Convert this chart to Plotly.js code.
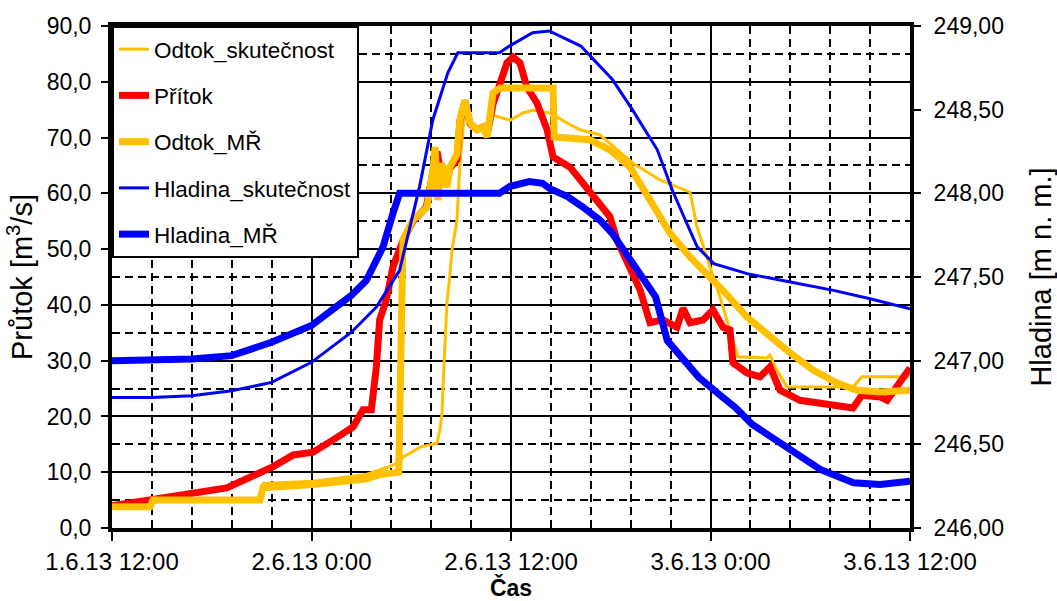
<!DOCTYPE html>
<html>
<head>
<meta charset="utf-8">
<script src="https://cdn.plot.ly/plotly-3.0.1.min.js"></script>
<style>html,body{margin:0;padding:0;background:#fff;}</style>
</head>
<body>
<div id="chart" style="width:1057px;height:601px;"></div>
<script>
// x values are hours after 1.6.13 12:00
const xTickVals = [0, 12, 24, 36, 48];
const xTickText = ['1.6.13 12:00', '2.6.13 0:00', '2.6.13 12:00', '3.6.13 0:00', '3.6.13 12:00'];
const yMinorVals = [5, 15, 25, 35, 45, 55, 65, 85];

const odtokSkutH = [0, 2.3, 2.5, 8.9, 9.1, 12.1, 15.3, 16.5, 17.14, 17.5, 18.53, 19.55, 19.73, 19.85, 19.95, 20.15, 20.33, 20.45, 20.75, 20.93, 21.11, 21.23, 21.53, 21.95, 22.32, 22.56, 22.92, 23.94, 24.72, 24.96, 25.32, 26.35, 27.37, 28.15, 29.35, 31.34, 32.96, 34.77, 35.19, 35.97, 36.57, 37.17, 37.65, 39.4, 39.58, 39.88, 40.6, 44.57, 45.11, 48];
const odtokSkutV = [3.8, 4.0, 4.8, 5.2, 8.0, 8.4, 9.6, 10.8, 11.6, 12.7, 14.5, 15.2, 17.6, 20.6, 28, 40.5, 45.5, 49.8, 55.2, 65.4, 71.4, 76.0, 72.6, 71.4, 71.9, 70.1, 74.0, 73.1, 74.4, 74.6, 74.9, 74.4, 72.6, 71.4, 70.5, 65.4, 62.4, 60.2, 54.0, 46.8, 41.4, 35.5, 30.7, 30.5, 31.0, 28.9, 25.3, 25.3, 27.1, 27.1];

const pritokH = [0, 2.3, 4.9, 6.9, 8.3, 9.7, 10.9, 12.1, 13.3, 14.5, 15.1, 15.6, 15.9, 16.1, 16.5, 16.9, 17.5, 18.1, 18.9, 19.3, 19.55, 19.73, 20.15, 20.33, 20.75, 20.93, 21.23, 21.53, 21.95, 22.32, 22.56, 22.92, 23.34, 23.76, 24.12, 24.54, 24.96, 25.56, 26.17, 26.53, 27.55, 28.33, 29.17, 29.95, 30.38, 31.16, 31.76, 32.36, 33.14, 33.98, 34.35, 34.77, 35.55, 36.15, 36.75, 37.17, 37.35, 38.2, 38.98, 39.58, 40.18, 41.38, 42.59, 43.79, 44.57, 45.11, 46.2, 46.62, 47.4, 48];
const pritokV = [4.0, 5.0, 6.3, 7.2, 9.1, 11.0, 13.1, 13.6, 15.8, 18.1, 21.2, 21.2, 28.9, 37.3, 40.9, 46.8, 51.5, 55.0, 57.5, 64.0, 67.5, 64.5, 62.5, 64.5, 66.0, 73.0, 76.5, 72.5, 71.4, 71.9, 70.5, 76.0, 79.5, 83.4, 84.4, 83.4, 79.0, 76.2, 71.4, 66.5, 64.7, 61.9, 58.8, 55.8, 51.6, 46.8, 42.7, 36.8, 37.3, 36.0, 39.4, 36.8, 37.3, 39.1, 36.0, 35.5, 29.6, 27.8, 27.1, 28.9, 24.7, 22.9, 22.4, 22.1, 21.5, 23.8, 23.5, 22.9, 26.0, 28.7];

const odtokMRH = [0, 2.29, 2.47, 8.9, 9.08, 12.09, 15.34, 16.12, 17.25, 17.4, 17.5, 18.1, 18.95, 19.31, 19.43, 19.6, 19.85, 20.15, 20.33, 20.75, 20.93, 21.23, 21.53, 21.95, 22.32, 22.56, 22.92, 23.34, 26.53, 26.6, 28.75, 29.95, 31.16, 32.36, 33.56, 34.77, 35.37, 36.0, 36.9, 38.2, 39.58, 40.78, 42.17, 43.61, 44.81, 46.2, 48];
const odtokMRV = [3.8, 3.8, 5.0, 5.0, 7.2, 7.8, 8.8, 9.6, 10.0, 49.0, 51.6, 55.2, 57.5, 64.2, 68.3, 58.8, 65.4, 61.1, 64.7, 67.0, 73.1, 76.7, 72.6, 71.4, 71.9, 70.1, 78.0, 78.9, 78.9, 70.1, 69.6, 67.8, 64.7, 58.8, 52.9, 48.6, 46.8, 44.5, 42.1, 37.8, 34.2, 31.4, 28.3, 26.0, 24.7, 24.4, 24.7];

const hladinaSkutH = [0, 2.4, 4.8, 7.2, 9.6, 12, 14.4, 15.9, 17.3, 18.5, 19.3, 20.2, 20.8, 23.3, 23.9, 25.3, 26.3, 28.2, 30.1, 31.3, 32.8, 33.7, 34.4, 35.2, 36.2, 38.2, 40.8, 43.4, 45.6, 48];
const hladinaSkutV = [246.78, 246.78, 246.79, 246.82, 246.87, 246.99, 247.17, 247.32, 247.54, 248.04, 248.44, 248.72, 248.84, 248.84, 248.88, 248.96, 248.97, 248.88, 248.68, 248.5, 248.26, 248.02, 247.86, 247.68, 247.58, 247.52, 247.47, 247.42, 247.37, 247.31];

const hladinaMRH = [0, 2.4, 4.8, 7.2, 9.6, 12, 14.4, 15.3, 16.3, 16.9, 17.3, 23.3, 23.9, 25.1, 25.9, 26.3, 27.4, 28.3, 29.35, 30.1, 31.3, 32.7, 33.4, 35.3, 36.5, 37.5, 38.5, 40.8, 42.6, 44.6, 46.2, 48];
const hladinaMRV = [247.0, 247.0, 247.01, 247.03, 247.11, 247.21, 247.39, 247.48, 247.68, 247.88, 248.0, 248.0, 248.04, 248.07, 248.06, 248.03, 247.98, 247.92, 247.84, 247.76, 247.58, 247.38, 247.12, 246.9, 246.8, 246.72, 246.62, 246.47, 246.35, 246.27, 246.26, 246.28];

const YELLOW = '#FFC000', RED = '#FF0000', BLUE = '#0000FF';

const traces = [
  {x: odtokSkutH, y: odtokSkutV, name: 'Odtok_skutečnost', legendgroup: 'a', line: {color: YELLOW, width: 3}},
  {x: pritokH, y: pritokV, name: 'Přítok', legendgroup: 'b', line: {color: RED, width: 7}},
  {x: odtokMRH, y: odtokMRV, name: 'Odtok_MŘ', legendgroup: 'c', line: {color: YELLOW, width: 7}},
  {x: hladinaSkutH, y: hladinaSkutV, name: 'Hladina_skutečnost', legendgroup: 'd', yaxis: 'y2', line: {color: BLUE, width: 3}},
  {x: hladinaMRH, y: hladinaMRV, name: 'Hladina_MŘ', legendgroup: 'e', yaxis: 'y2', line: {color: BLUE, width: 7}}
].map(t => Object.assign({type: 'scatter', mode: 'lines', hoverinfo: 'skip'}, t));

const layout = {
  width: 1057, height: 601,
  margin: {l: 112, r: 147, t: 26, b: 73, pad: 0},
  paper_bgcolor: '#fff', plot_bgcolor: '#fff',
  separators: ', ',
  font: {family: '"Liberation Sans", Arial, sans-serif', color: '#000'},
  showlegend: true,
  legend: {x: 0, y: 1, xanchor: 'left', yanchor: 'top', bgcolor: '#fff', bordercolor: '#000', borderwidth: 2,
           font: {size: 22.5, color: '#000'}, tracegroupgap: 14, traceorder: 'grouped'},
  xaxis: {
    range: [0, 48], tickmode: 'array', tickvals: xTickVals, ticktext: xTickText,
    showgrid: true, gridcolor: '#000', gridwidth: 2,
    minor: {tickmode: 'linear', tick0: 0, dtick: 2.4, showgrid: true, gridcolor: '#000', gridwidth: 2, griddash: '8px,5px'},
    showline: true, linewidth: 4, linecolor: '#000', mirror: true,
    ticks: 'outside', ticklen: 9, tickwidth: 2, tickcolor: '#000',
    tickfont: {size: 24}, zeroline: false,
    title: {text: 'Čas', font: {size: 23, weight: 'bold'}, standoff: 6}
  },
  yaxis: {
    range: [0, 90], tickmode: 'linear', tick0: 0, dtick: 10, tickformat: '.1f',
    showgrid: true, gridcolor: '#000', gridwidth: 2,
    minor: {tickmode: 'array', tickvals: yMinorVals, showgrid: true, gridcolor: '#000', gridwidth: 2, griddash: '8px,5px'},
    showline: true, linewidth: 4, linecolor: '#000',
    ticks: 'outside', ticklen: 7, tickwidth: 2, tickcolor: '#000', ticklabelstandoff: 5,
    tickfont: {size: 23}, zeroline: false,
    title: {text: 'Průtok [m<sup>3</sup>/s]', font: {size: 29}, standoff: 6}
  },
  yaxis2: {
    overlaying: 'y', side: 'right', anchor: 'x',
    range: [246, 249], tickmode: 'linear', tick0: 246, dtick: 0.5, tickformat: '.2f',
    showgrid: false, showline: true, linewidth: 4, linecolor: '#000',
    ticks: 'outside', ticklen: 7, tickwidth: 2, tickcolor: '#000', ticklabelstandoff: 8,
    tickfont: {size: 23}, zeroline: false,
    title: {text: 'Hladina [m n. m.]', font: {size: 29}, standoff: 30}
  }
};

Plotly.newPlot('chart', traces, layout, {displayModeBar: false, staticPlot: true});
</script>
</body>
</html>
